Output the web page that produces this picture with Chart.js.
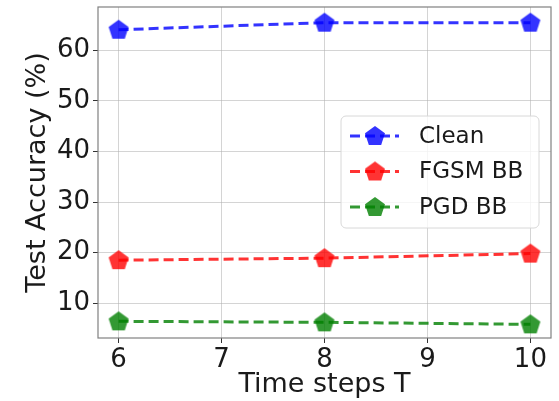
<!DOCTYPE html>
<html>
<head>
<meta charset="utf-8">
<script src="https://cdn.jsdelivr.net/npm/chart.js@4"></script>
<style>
  html, body { margin: 0; padding: 0; background: #fff; }
  #wrap { width: 559px; height: 401px; }
</style>
</head>
<body>
<div id="wrap"><canvas id="accChart" width="559" height="401"></canvas></div>
<script>
// -------------------- DATA --------------------
const timeSteps = [6, 8, 10];
const cleanAcc = [64.1, 65.5, 65.5];
const fgsmAcc = [18.5, 18.9, 19.8];
const pgdAcc = [6.4, 6.2, 5.8];
const xTicks = [6, 7, 8, 9, 10];
const yTicks = [10, 20, 30, 40, 50, 60];
const seriesNames = ["Clean", "FGSM BB", "PGD BB"];

const FONT = "'DejaVu Sans', sans-serif";

// pentagon marker drawn once per colour, used as pointStyle
function makePentagon(color) {
  const c = document.createElement("canvas");
  c.width = 24; c.height = 24;
  const g = c.getContext("2d");
  const r = 10.5, cx = 12, cy = 12.5;
  g.beginPath();
  for (let i = 0; i < 5; i++) {
    const a = -Math.PI / 2 + i * 2 * Math.PI / 5;
    const px = cx + r * Math.cos(a), py = cy + r * Math.sin(a);
    if (i === 0) g.moveTo(px, py); else g.lineTo(px, py);
  }
  g.closePath();
  g.fillStyle = color;
  g.fill();
  return c;
}

const colors = ["rgba(0,0,255,0.8)", "rgba(255,0,0,0.8)", "rgba(0,128,0,0.8)"];
const values = [cleanAcc, fgsmAcc, pgdAcc];

const datasets = values.map((vals, i) => ({
  label: seriesNames[i],
  data: vals.map((v, j) => ({ x: timeSteps[j], y: v })),
  borderColor: colors[i],
  borderWidth: 3,
  borderDash: [10, 5],
  pointStyle: makePentagon(colors[i]),
  pointRadius: 10,
  fill: false,
  tension: 0
}));

// -------------------- PLUGINS --------------------
const frameBox = {
  id: "frameBox",
  afterDatasetsDraw(chart) {
    const a = chart.chartArea, g = chart.ctx;
    g.save();
    g.strokeStyle = "#808080";
    g.lineWidth = 1.2;
    g.strokeRect(a.left, a.top, a.right - a.left, a.bottom - a.top);
    g.restore();
  }
};

const innerLegend = {
  id: "innerLegend",
  afterDraw(chart) {
    const g = chart.ctx;
    g.save();
    const bx = 341, by = 116, bw = 198, bh = 112, r = 5;
    g.beginPath();
    g.roundRect(bx, by, bw, bh, r);
    g.fillStyle = "rgba(255,255,255,0.8)";
    g.fill();
    g.strokeStyle = "#d8d8d8";
    g.lineWidth = 1;
    g.stroke();
    chart.data.datasets.forEach((ds, i) => {
      const y = 136 + i * 35.5;
      g.beginPath();
      g.setLineDash([10, 5]);
      g.strokeStyle = ds.borderColor;
      g.lineWidth = 3;
      g.moveTo(350, y);
      g.lineTo(399, y);
      g.stroke();
      g.setLineDash([]);
      const img = ds.pointStyle;
      g.drawImage(img, 375 - img.width / 2, y - img.height / 2);
      g.fillStyle = "#1a1a1a";
      g.font = "23px " + FONT;
      g.textBaseline = "middle";
      g.textAlign = "left";
      g.fillText(ds.label, 419, y + 1);
    });
    g.restore();
  }
};

// -------------------- CHART --------------------
new Chart(document.getElementById("accChart"), {
  type: "line",
  data: { datasets },
  options: {
    responsive: false,
    animation: false,
    layout: { autoPadding: false, padding: { top: 7, right: 8, left: 0, bottom: 0 } },
    plugins: { legend: { display: false }, tooltip: { enabled: false } },
    scales: {
      x: {
        type: "linear",
        min: 5.8, max: 10.2,
        afterBuildTicks: s => { s.ticks = xTicks.map(v => ({ value: v })); },
        afterFit: s => { s.height = 63; s.paddingLeft = 0; s.paddingRight = 0; },
        grid: { color: "rgba(176,176,176,0.55)", lineWidth: 1, tickLength: 5, tickColor: "#333" },
        border: { display: false },
        ticks: { color: "#1a1a1a", font: { family: FONT, size: 26 }, padding: 2, maxRotation: 0 },
        title: { display: true, text: "Time steps T", color: "#1a1a1a", font: { family: FONT, size: 27 }, padding: { top: 0, bottom: 0 } }
      },
      y: {
        min: 3.1, max: 68.6,
        afterBuildTicks: s => { s.ticks = yTicks.map(v => ({ value: v })); },
        afterFit: s => { s.width = 98; s.paddingTop = 0; s.paddingBottom = 0; },
        grid: { color: "rgba(176,176,176,0.55)", lineWidth: 1, tickLength: 5, tickColor: "#333" },
        border: { display: false },
        ticks: { color: "#1a1a1a", font: { family: FONT, size: 26 }, padding: 3 },
        title: { display: true, text: "Test Accuracy (%)", color: "#1a1a1a", font: { family: FONT, size: 27 }, padding: { top: 22, bottom: 0 } }
      }
    }
  },
  plugins: [frameBox, innerLegend]
});
</script>
</body>
</html>
